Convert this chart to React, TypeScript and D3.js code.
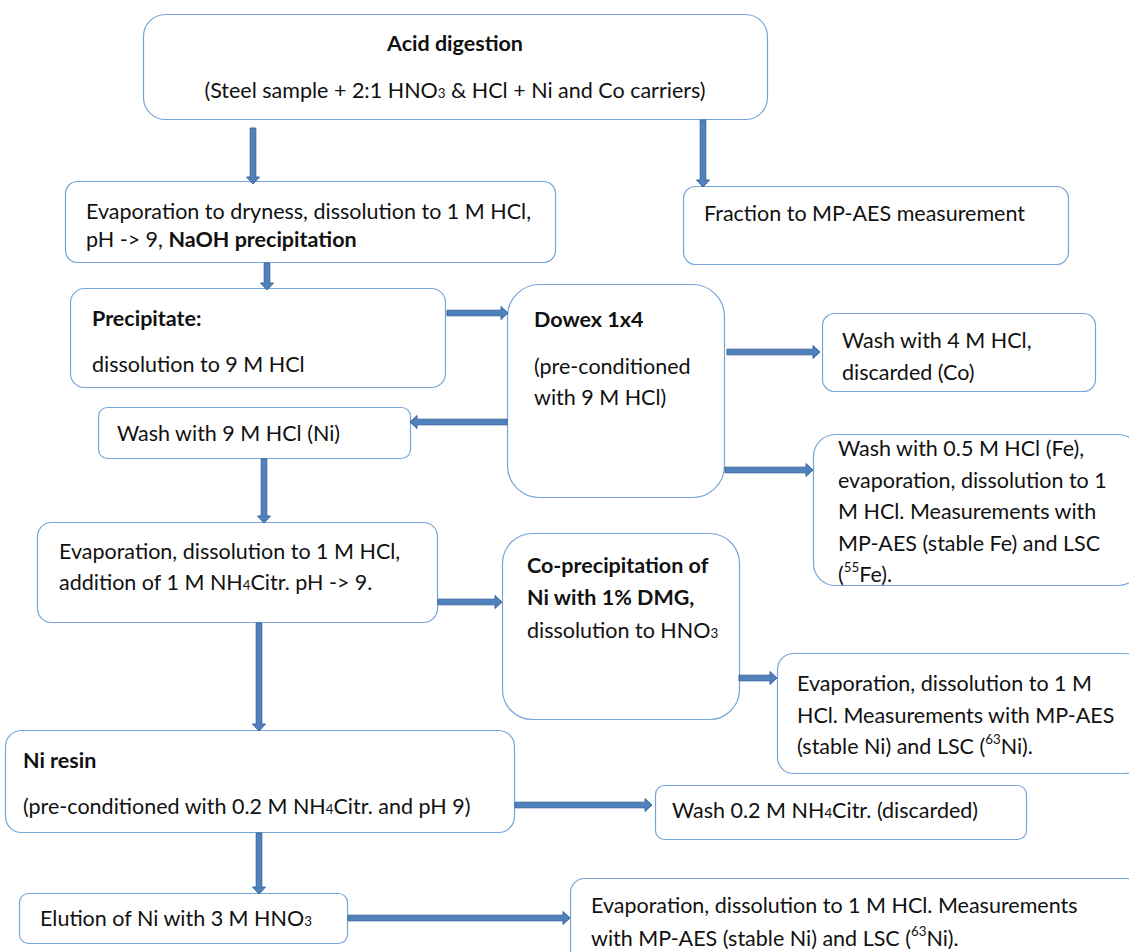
import React from "react";
import * as d3 from "d3";

// ---- Flowchart content (data) ----
const boxTexts: string[][] = [
  ["**Acid digestion**", "(Steel sample + 2:1 HNO_{3} & HCl + Ni and Co carriers)"],
  ["Evaporation to dryness, dissolution to 1 M HCl,", "pH -> 9, **NaOH precipitation**"],
  ["Fraction to MP-AES measurement"],
  ["**Precipitate:**", "dissolution to 9 M HCl"],
  ["**Dowex 1x4**", "(pre-conditioned", "with 9 M HCl)"],
  ["Wash with 4 M HCl,", "discarded (Co)"],
  ["Wash with 9 M HCl (Ni)"],
  ["Wash with 0.5 M HCl (Fe),", "evaporation, dissolution to 1", "M HCl. Measurements with", "MP-AES (stable Fe) and LSC", "(^{55}Fe)."],
  ["Evaporation, dissolution to 1 M HCl,", "addition of 1 M NH_{4}Citr. pH -> 9."],
  ["**Co-precipitation of**", "**Ni with 1% DMG,**", "dissolution to HNO_{3}"],
  ["Evaporation, dissolution to 1 M", "HCl. Measurements with MP-AES", "(stable Ni) and LSC (^{63}Ni)."],
  ["**Ni resin**", "(pre-conditioned with 0.2 M NH_{4}Citr. and pH 9)"],
  ["Wash 0.2 M NH_{4}Citr. (discarded)"],
  ["Elution of Ni with 3 M HNO_{3}"],
  ["Evaporation, dissolution to 1 M HCl. Measurements", "with MP-AES (stable Ni) and LSC (^{63}Ni)."],
];

// ---- Layout ----
const boxRects = [
  { x0: 143, y0: 14, x1: 767, y1: 119, r: 22 },
  { x0: 65, y0: 181, x1: 555, y1: 262, r: 12 },
  { x0: 683, y0: 186, x1: 1068, y1: 264, r: 12 },
  { x0: 70, y0: 288, x1: 445, y1: 387, r: 14 },
  { x0: 507, y0: 284, x1: 724, y1: 497, r: 32 },
  { x0: 822, y0: 313, x1: 1095, y1: 391, r: 12 },
  { x0: 98, y0: 407, x1: 410, y1: 458, r: 9 },
  { x0: 813, y0: 434, x1: 1140, y1: 585, r: 22 },
  { x0: 37, y0: 522, x1: 437, y1: 622, r: 14 },
  { x0: 502, y0: 533, x1: 739, y1: 719, r: 30 },
  { x0: 777, y0: 653, x1: 1140, y1: 773, r: 16 },
  { x0: 5, y0: 730, x1: 514, y1: 832, r: 16 },
  { x0: 655, y0: 785, x1: 1026, y1: 839, r: 9 },
  { x0: 19, y0: 893, x1: 347, y1: 943, r: 9 },
  { x0: 570, y0: 878, x1: 1140, y1: 965, r: 14 },
];
const textLayout = [
  { x: 455, anchor: "middle", ys: [43, 90] },
  { x: 86, anchor: "start", ys: [211, 239] },
  { x: 704, anchor: "start", ys: [213] },
  { x: 92, anchor: "start", ys: [318, 364] },
  { x: 534, anchor: "start", ys: [319, 366, 397] },
  { x: 842, anchor: "start", ys: [340, 372] },
  { x: 117, anchor: "start", ys: [433] },
  { x: 838, anchor: "start", ys: [448, 480, 511, 543, 574] },
  { x: 59, anchor: "start", ys: [551, 582] },
  { x: 527, anchor: "start", ys: [565, 597, 630] },
  { x: 797, anchor: "start", ys: [683, 715, 746] },
  { x: 23, anchor: "start", ys: [760, 806] },
  { x: 672, anchor: "start", ys: [810] },
  { x: 40, anchor: "start", ys: [918] },
  { x: 591, anchor: "start", ys: [905, 938] },
];
// arrows: [x1, y1, x2, y2]
const arrows: [number, number, number, number][] = [
  [253, 128, 253, 184],
  [703, 120, 703, 187],
  [267, 263, 267, 290],
  [447, 313, 508, 313],
  [727, 352, 820, 352],
  [507, 422, 410, 422],
  [725, 470, 813, 470],
  [264, 459, 264, 523],
  [438, 602, 502, 602],
  [739, 678, 777, 678],
  [259, 623, 259, 731],
  [515, 805, 652, 805],
  [259, 833, 259, 894],
  [348, 918, 570, 918],
];

type Seg = { t: string; bold: boolean; sub?: boolean; sup?: boolean };
function parse(line: string): Seg[] {
  const segs: Seg[] = [];
  let bold = false;
  let buf = "";
  let i = 0;
  const flush = () => {
    if (buf) segs.push({ t: buf, bold });
    buf = "";
  };
  while (i < line.length) {
    if (line.startsWith("**", i)) {
      flush();
      bold = !bold;
      i += 2;
    } else if ((line[i] === "_" || line[i] === "^") && line[i + 1] === "{") {
      flush();
      const end = line.indexOf("}", i);
      const t = line.slice(i + 2, end);
      segs.push({ t, bold, sub: line[i] === "_", sup: line[i] === "^" });
      i = end + 1;
    } else {
      buf += line[i];
      i++;
    }
  }
  flush();
  return segs;
}

function arrowPath(a: [number, number, number, number]) {
  const [x1, y1, x2, y2] = a;
  const len = Math.hypot(x2 - x1, y2 - y1);
  const ang = Math.atan2(y2 - y1, x2 - x1);
  const sw = 2.8, hw = 6.5, hl = 7;
  const pts: [number, number][] = [
    [0, -sw], [len - hl, -sw], [len - hl, -hw], [len, 0], [len - hl, hw], [len - hl, sw], [0, sw],
  ];
  const p = d3.path();
  pts.forEach(([u, v], k) => {
    const x = x1 + u * Math.cos(ang) - v * Math.sin(ang);
    const y = y1 + u * Math.sin(ang) + v * Math.cos(ang);
    if (k === 0) p.moveTo(x, y);
    else p.lineTo(x, y);
  });
  p.closePath();
  return p.toString();
}

const FONT = "Lato, 'Open Sans', sans-serif";
const FS = 21.5;

export default function App() {
  return (
    <svg width={1129} height={952} style={{ position: "absolute", left: 0, top: 0, background: "#fff" }}>
      <rect width={1129} height={952} fill="#fff" />
      {boxRects.map((b, i) => (
        <rect key={"b" + i} x={b.x0 + 0.5} y={b.y0 + 0.5} width={b.x1 - b.x0} height={b.y1 - b.y0}
          rx={b.r} ry={b.r} fill="#fff" stroke="#75A5D8" strokeWidth={1.2} />
      ))}
      {arrows.map((a, i) => (
        <path key={"a" + i} d={arrowPath(a)} fill="#4F81BD" stroke="#3A679E" strokeWidth={1} />
      ))}
      {boxTexts.map((lines, i) => {
        const L = textLayout[i];
        return lines.map((ln, j) => (
          <text key={`t${i}-${j}`} x={L.x} y={L.ys[j]} textAnchor={L.anchor as any}
            dominantBaseline="central" fontFamily={FONT} fontSize={FS} fill="#111">
            {parse(ln).map((s, k) => (
              <tspan key={k} fontWeight={s.bold ? 700 : 400}
                fontSize={s.sub || s.sup ? FS * 0.62 : FS}
                baselineShift={s.sub ? "-25%" : s.sup ? "55%" : undefined}>
                {s.t}
              </tspan>
            ))}
          </text>
        ));
      })}
    </svg>
  );
}
